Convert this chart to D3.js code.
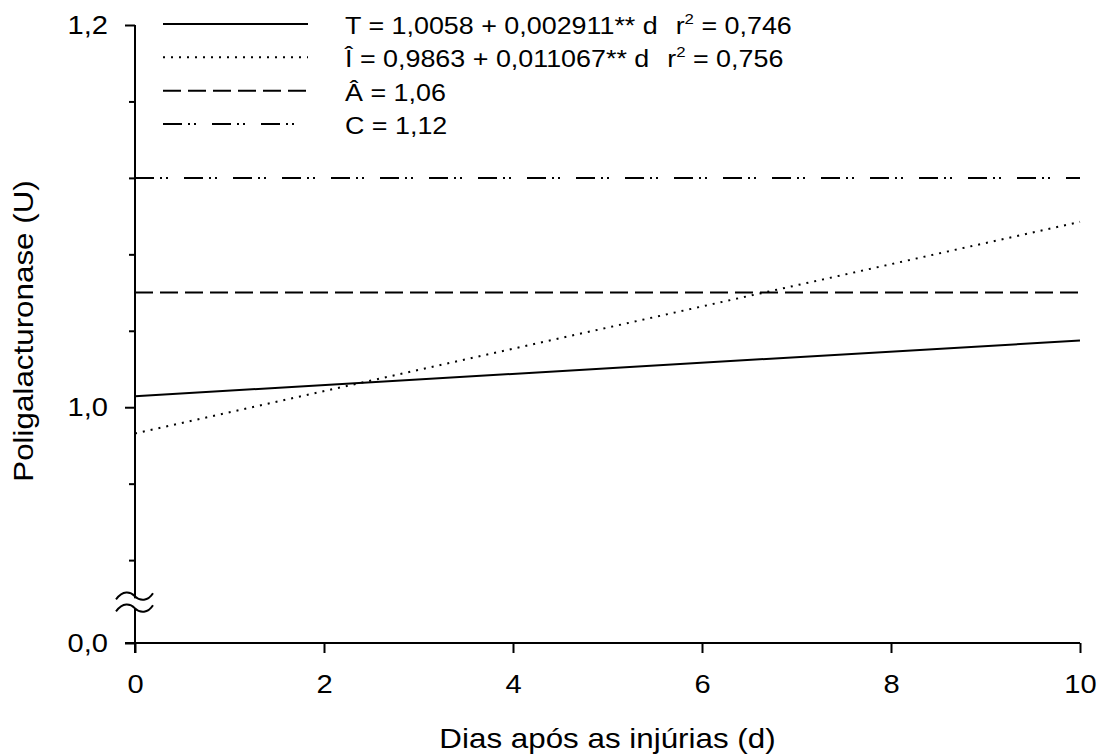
<!DOCTYPE html>
<html>
<head>
<meta charset="utf-8">
<script src="https://cdn.jsdelivr.net/npm/d3@7"></script>
<style>
  body { margin: 0; background: #fff; }
  svg { display: block; font-family: Arial, "Liberation Sans", sans-serif; }
</style>
</head>
<body>
<svg id="chart" width="1101" height="756"></svg>
<script>
// Data
let days = [0, 10];
let seriesNames = ["T", "I", "A", "C"];
let tValues = [1.0058, 1.0349];
let iValues = [0.9863, 1.0970];
let aValues = [1.06, 1.06];
let cValues = [1.12, 1.12];
let legendLabels = [
    ["T = 1,0058 + 0,002911** d", "0,746"],
    ["Î = 0,9863 + 0,011067** d", "0,756"],
    ["Â = 1,06", null],
    ["C = 1,12", null]
];
let xTicks = [0, 2, 4, 6, 8, 10];
let yMajor = [0, 1.0, 1.2];
let yMajorLabels = ["0,0", "1,0", "1,2"];
let yMinor = [0.92, 0.96, 1.04, 1.08, 1.12, 1.16];
let breakValue = 0.9;

// the original figure's lettering is a bit wider than Arial
let sx = 1.12;

let svg = d3.select("#chart");

// Scales (y is broken below 0,9)
let x = d3.scaleLinear().domain([0, 10]).range([135, 1080]);
let y = d3.scaleLinear().domain([0, 0.885, 1.2]).range([643, 627, 25]);

let dashes = {
    T: null,
    I: "2,6",
    A: "18,7",
    C: "19,6,2,4,2,16"
};
let allValues = { T: tValues, I: iValues, A: aValues, C: cValues };

function stretch(sel) {
    sel.each(function () {
        let t = d3.select(this);
        let ax = +t.attr("x") || 0;
        t.attr("transform", "translate(" + ax + ",0) scale(" + sx + ",1) translate(" + (-ax) + ",0)");
    });
}

// Axes
let xAxis = svg.append("g")
    .attr("transform", "translate(0," + y(0) + ")")
    .call(d3.axisBottom(x).tickValues(xTicks).tickSize(10).tickSizeOuter(0).tickPadding(22)
        .tickFormat(d => d));
xAxis.select(".domain").attr("d", "M125,0H" + x(10));

let yAxis = svg.append("g")
    .attr("transform", "translate(" + x(0) + ",0)")
    .call(d3.axisLeft(y).tickValues(yMajor).tickSize(10).tickSizeOuter(0).tickPadding(17)
        .tickFormat((d, i) => yMajorLabels[i]));
yAxis.select(".domain").attr("d", "M0," + y(1.2) + "V" + (y(0) + 10));

svg.append("g")
    .attr("transform", "translate(" + x(0) + ",0)")
    .call(d3.axisLeft(y).tickValues(yMinor).tickSize(6).tickFormat(""))
    .select(".domain").remove();

svg.selectAll(".domain, .tick line").attr("stroke", "#000").attr("stroke-width", 2);
svg.selectAll(".tick text").attr("font-size", 26).attr("fill", "#000")
    .attr("font-family", "Arial, 'Liberation Sans', sans-serif")
    .call(stretch);

// Axis break
let yb = y(breakValue);
svg.append("rect").attr("x", x(0) - 3).attr("y", yb).attr("width", 6).attr("height", 10).attr("fill", "#fff");
[yb - 2, yb + 10].forEach(yy => {
    svg.append("path")
        .attr("d", "M" + (x(0) - 19) + "," + (yy + 3) +
            " C" + (x(0) - 12) + "," + (yy - 6) + " " + (x(0) - 5) + "," + (yy - 5) + " " + x(0) + "," + yy +
            " S" + (x(0) + 13) + "," + (yy + 5) + " " + (x(0) + 18) + "," + (yy - 3))
        .attr("fill", "none").attr("stroke", "#000").attr("stroke-width", 2);
});

// Series lines
let line = d3.line().x((d, i) => x(days[i])).y(d => y(d));
seriesNames.forEach(s => {
    svg.append("path")
        .datum(allValues[s])
        .attr("d", line)
        .attr("fill", "none")
        .attr("stroke", "#000")
        .attr("stroke-width", 2)
        .attr("stroke-dasharray", dashes[s]);
});

// Legend
let legendY = d3.scalePoint().domain(seriesNames).range([24, 124]);
seriesNames.forEach((s, i) => {
    let ly = legendY(s);
    svg.append("line")
        .attr("x1", 163).attr("x2", 308).attr("y1", ly).attr("y2", ly)
        .attr("stroke", "#000").attr("stroke-width", 2)
        .attr("stroke-dasharray", dashes[s]);
    let t = svg.append("text")
        .attr("x", 345).attr("y", ly + 10)
        .attr("font-size", 24);
    t.append("tspan").text(legendLabels[i][0]);
    if (legendLabels[i][1]) {
        t.append("tspan").attr("dx", 16).text("r");
        t.append("tspan").attr("dy", -10).attr("font-size", 15).text("2");
        t.append("tspan").attr("dy", 10).text(" = " + legendLabels[i][1]);
    }
    t.call(stretch);
});

// Axis titles
svg.append("text")
    .attr("x", (x(0) + x(10)) / 2).attr("y", 748)
    .attr("text-anchor", "middle")
    .attr("font-size", 28)
    .text("Dias após as injúrias (d)")
    .call(stretch);

svg.append("text")
    .attr("transform", "translate(33,331) rotate(-90) scale(" + sx + ",1)")
    .attr("text-anchor", "middle")
    .attr("font-size", 28)
    .text("Poligalacturonase (U)");
</script>
</body>
</html>
